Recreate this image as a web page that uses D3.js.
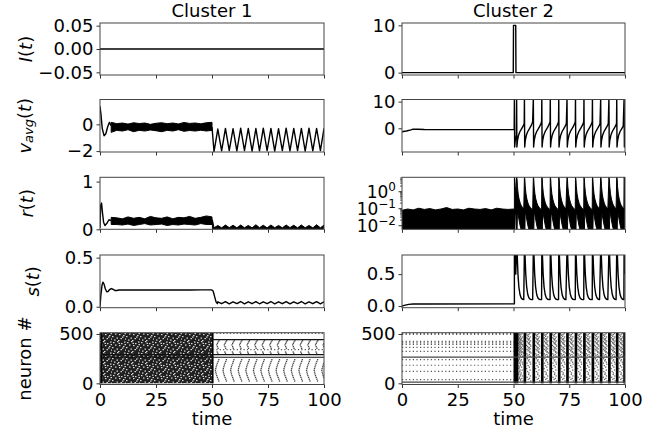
<!DOCTYPE html>
<html>
<head>
<meta charset="utf-8">
<script src="https://cdn.jsdelivr.net/npm/d3@7"></script>
<style>
  body { margin: 0; background: #fff; }
  text { font-family: "DejaVu Sans", sans-serif; fill: #000; }
</style>
</head>
<body>
<svg width="668" height="438"></svg>
<script>
// ---- data ----
var xTicks = [0, 25, 50, 75, 100];

// input current
var I1 = [[0, 0], [100, 0]];
var I2 = [[0, 0], [49.9, 0], [50, 10], [51, 10], [51.1, 0], [100, 0]];

// cluster 1, first half: early transient then noisy band
var v1Early = [[0, 1.35], [0.4, 0.8], [1, -0.3], [1.8, -0.85], [2.6, -0.7], [3.4, -0.2], [4.2, 0.15], [5, -0.1]];
var bandT1 = [5, 7.5, 10, 12.5, 15, 17.5, 20, 22.5, 25, 27.5, 30, 32.5, 35, 37.5, 40, 42.5, 45, 47.5, 50];
var v1Hi = [0.15, 0.05, 0.1, 0.02, 0.12, 0.06, 0.1, 0.0, 0.08, 0.12, 0.05, 0.1, 0.03, 0.14, 0.07, 0.1, 0.04, 0.12, 0.15];
var v1Lo = [-0.6, -0.45, -0.5, -0.4, -0.55, -0.45, -0.5, -0.42, -0.48, -0.55, -0.45, -0.5, -0.4, -0.52, -0.46, -0.5, -0.44, -0.5, -0.45];
var r1Early = [[0, 0.03], [0.3, 0.5], [0.7, 0.55], [1.1, 0.35], [1.6, 0.15], [2.2, 0.08], [3, 0.12], [4, 0.2], [5, 0.18]];
var r1Hi = [0.25, 0.24, 0.22, 0.26, 0.23, 0.25, 0.22, 0.27, 0.24, 0.23, 0.26, 0.22, 0.25, 0.24, 0.27, 0.23, 0.25, 0.28, 0.26];
var r1Lo = [0.1, 0.1, 0.09, 0.11, 0.08, 0.1, 0.12, 0.09, 0.1, 0.11, 0.08, 0.1, 0.09, 0.11, 0.1, 0.09, 0.12, 0.1, 0.1];
var s1First = [[0, 0], [0.4, 0.12], [0.9, 0.22], [1.3, 0.25], [1.8, 0.23], [2.4, 0.18], [3, 0.152], [3.6, 0.155],
  [4.3, 0.175], [5, 0.185], [5.8, 0.178], [6.6, 0.166], [7.5, 0.165], [8.5, 0.17], [10, 0.171], [15, 0.17],
  [20, 0.171], [25, 0.17], [30, 0.172], [35, 0.171], [40, 0.17], [45, 0.172], [49.8, 0.172], [50.5, 0.16],
  [51.2, 0.1], [51.8, 0.05], [52.4, 0.032]];

// cluster 1, second half: slow oscillation
var c1Troughs = [50.9, 54.3, 57.7, 61.1, 64.5, 67.9, 71.2, 74.6, 78.0, 81.4, 84.8, 88.2, 91.6, 95.0, 98.4];
var c1Peaks = [52.6, 56.0, 59.4, 62.8, 66.2, 69.6, 72.9, 76.3, 79.7, 83.1, 86.5, 89.9, 93.3, 96.7, 100];
var v1TroughV = [-2.05, -1.98, -1.96, -1.99, -1.97, -2.0, -1.98, -1.96, -2.0, -1.97, -1.99, -1.96, -2.0, -1.98, -1.97];
var v1PeakV = [-0.35, -0.3, -0.32, -0.28, -0.3, -0.31, -0.29, -0.3, -0.32, -0.28, -0.3, -0.31, -0.29, -0.3, -0.3];
var r1PeakV = [0.08, 0.09, 0.085, 0.09, 0.08, 0.095, 0.085, 0.09, 0.08, 0.09, 0.085, 0.09, 0.08, 0.095, 0.09];
var r1TroughV = [0.03, 0.03, 0.035, 0.03, 0.032, 0.03, 0.035, 0.03, 0.032, 0.03, 0.035, 0.03, 0.032, 0.03, 0.03];
var s1PeakV = [0.05, 0.052, 0.05, 0.053, 0.05, 0.052, 0.05, 0.053, 0.05, 0.052, 0.05, 0.053, 0.05, 0.052, 0.05];
var s1TroughV = [0.03, 0.031, 0.03, 0.032, 0.03, 0.031, 0.03, 0.032, 0.03, 0.031, 0.03, 0.032, 0.03, 0.031, 0.03];

// cluster 2, first half
var v2Early = [[0, -1.5], [0.5, -1.2], [2, -1.0], [4, -0.6], [5, -0.3], [7, -0.35], [10, -0.45], [20, -0.5], [30, -0.5], [40, -0.5], [50.3, -0.5]];
var bandT2 = [0, 2.5, 5, 7.5, 10, 12.5, 15, 17.5, 20, 22.5, 25, 27.5, 30, 32.5, 35, 37.5, 40, 42.5, 45, 47.5, 50.4];
var r2Hi = [0.075, 0.09, 0.08, 0.1, 0.085, 0.095, 0.08, 0.09, 0.11, 0.085, 0.09, 0.08, 0.1, 0.09, 0.085, 0.095, 0.08, 0.1, 0.09, 0.085, 0.09];
var s2Early = [[0, 0], [1, 0.01], [3, 0.025], [5, 0.03], [10, 0.032], [50.4, 0.033]];

// cluster 2, second half: population bursts and one cycle shape after each [dt, value]
var bursts = [50.4, 51.4, 54.9, 58.9, 62.7, 66.5, 70.3, 74.0, 77.8, 81.6, 85.4, 89.1, 92.8, 96.3, 99.6];
var vCycle = [[0, 11.5], [0.12, -7], [0.4, -4.5], [0.9, -2.5], [1.5, -1.2], [2.2, -0.2], [2.9, 0.8], [3.4, 1.8], [3.7, 2.5]];
var sCycle = [[0, 0.9], [0.25, 0.82], [0.6, 0.5], [1.0, 0.3], [1.5, 0.18], [2.0, 0.13], [2.6, 0.105], [3.2, 0.1], [3.7, 0.1]];
var rCycle = [[0, 0.004, 7], [0.2, 0.004, 5], [0.35, 0.06, 2], [0.7, 0.04, 0.7], [1.1, 0.02, 0.35], [1.6, 0.009, 0.2],
  [2.1, 0.005, 0.14], [2.7, 0.004, 0.11], [3.2, 0.004, 0.09], [3.7, 0.004, 0.085]];

// rasters
var c1Solid = [[0, 100, 264], [0, 100, 290], [50, 100, 442]];
var c1Bars = [0.6, 50.3];
var c1Rows2 = [505, 341];
var c1VeeN = [240, 222, 204, 186, 168, 150, 132, 114, 96, 78, 60, 42, 24];
var c1VeeDt = [1.5, 1.2, 0.9, 0.6, 0.35, 0.15, 0, 0.15, 0.35, 0.6, 0.9, 1.2, 1.5];
var c1VeeN2 = [432, 420, 405, 390, 372, 355, 318, 305];
var c1VeeDt2 = [1.0, 0.6, 0.3, 0, 0.3, 0.6, 0.2, 0.5];
var c2Rows = [505, 497, 425, 410, 395, 365, 324, 240, 183, 122, 37];
var c2Solid = [266, 12];
var c2FireN = [500, 488, 476, 462, 450, 438, 425, 412, 398, 385, 372, 358, 345, 330, 316, 300, 285, 250, 228, 205, 180, 150, 120, 90, 62, 40];
var c2FireDt = [0.9, 1.3, 1.7, 1.1, 1.5, 2.0, 1.2, 1.6, 2.2, 1.0, 1.4, 1.9, 1.2, 1.6, 2.3, 1.1, 1.5, 1.3, 1.8, 1.2, 1.6, 1.0, 1.4, 1.9, 1.2, 1.7];
var c2FireN2 = [505, 494, 470, 455, 444, 430, 418, 404, 392, 378, 364, 350, 338, 322, 308, 292, 275, 240, 215, 195, 165, 135, 105, 75, 50, 25];
var c2FireDt2 = [2.4, 1.9, 2.6, 2.2, 1.8, 2.7, 2.3, 1.9, 2.5, 2.8, 2.1, 2.6, 2.0, 2.4, 2.9, 2.2, 2.6, 2.1, 2.5, 2.7, 2.2, 2.5, 2.0, 2.6, 2.3, 2.8];

// ---- layout ----
var svg = d3.select("svg");
var colX = [[100, 324], [402, 625]];
var rowY = [[23, 75], [99.5, 152], [177.3, 229.3], [255, 307.7], [332.7, 384.5]];
var FS = 18;

var defs = svg.append("defs");
// speckle texture for the dense asynchronous raster
var pat = defs.append("pattern").attr("id", "speck").attr("patternUnits", "userSpaceOnUse")
  .attr("width", 14).attr("height", 11);
pat.append("rect").attr("width", 14).attr("height", 11).attr("fill", "#202020");
[[1, 1], [5, 0], [9, 2], [12, 0.5], [3, 3.5], [7, 4], [11, 5], [0, 6], [4.5, 7.5], [8.5, 8],
 [13, 8.5], [2, 9.5], [6, 10], [10, 6.5], [12.5, 3], [6.5, 1.8]].forEach(function (p) {
  pat.append("rect").attr("x", p[0]).attr("y", p[1]).attr("width", 1.5).attr("height", 1.2).attr("fill", "#d8d8d8");
});

function xs(c) { return d3.scaleLinear().domain([0, 100]).range(colX[c]); }

function panel(c, r, y, ticks, fmt) {
  var x = xs(c);
  var id = "clip" + c + r;
  defs.append("clipPath").attr("id", id).append("rect")
    .attr("x", colX[c][0]).attr("y", rowY[r][0])
    .attr("width", colX[c][1] - colX[c][0]).attr("height", rowY[r][1] - rowY[r][0]);
  var g = svg.append("g").attr("clip-path", "url(#" + id + ")");

  var ax = svg.append("g").attr("transform", "translate(" + colX[c][0] + ",0)")
    .call(d3.axisLeft(y).tickValues(ticks).tickFormat(fmt || null).tickSize(3.5).tickPadding(3).tickSizeOuter(0));
  ax.select(".domain").remove();
  ax.selectAll("text").style("font-size", FS + "px").style("font-family", "DejaVu Sans");
  ax.selectAll("line").attr("stroke", "#333");

  var bx = svg.append("g").attr("transform", "translate(0," + rowY[r][1] + ")")
    .call(d3.axisBottom(x).tickValues(xTicks).tickSize(3.5).tickPadding(5).tickSizeOuter(0)
      .tickFormat(r === 4 ? d3.format("d") : function () { return ""; }));
  bx.select(".domain").remove();
  bx.selectAll("text").style("font-size", FS + "px").style("font-family", "DejaVu Sans");
  bx.selectAll("line").attr("stroke", "#333");

  svg.append("rect").attr("x", colX[c][0]).attr("y", rowY[r][0])
    .attr("width", colX[c][1] - colX[c][0]).attr("height", rowY[r][1] - rowY[r][0])
    .attr("fill", "none").attr("stroke", "#444").attr("stroke-width", 1);
  return { g: g, x: x, y: y };
}

function drawLine(p, pts) {
  p.g.append("path").datum(pts)
    .attr("d", d3.line().x(function (d) { return p.x(d[0]); }).y(function (d) { return p.y(d[1]); }))
    .attr("fill", "none").attr("stroke", "#000").attr("stroke-width", 1.4).attr("stroke-linejoin", "round");
}

function drawBand(p, ts, lo, hi) {
  var rows = ts.map(function (t, i) { return [t, lo[i], hi[i]]; });
  p.g.append("path").datum(rows)
    .attr("d", d3.area().x(function (d) { return p.x(d[0]); })
      .y0(function (d) { return p.y(d[1]); }).y1(function (d) { return p.y(d[2]); }))
    .attr("fill", "#000").attr("stroke", "#000").attr("stroke-width", 1);
}

function merge(tA, vA, tB, vB, from) {
  var pts = [];
  tA.forEach(function (t, i) { pts.push([t, vA[i]]); });
  tB.forEach(function (t, i) { pts.push([t, vB[i]]); });
  return pts.filter(function (d) { return d[0] >= from; }).sort(function (a, b) { return a[0] - b[0]; });
}

// one cycle shape repeated at every burst, cut at the next burst
function cycles(bs, shape, end) {
  var pts = [];
  bs.forEach(function (b, i) {
    var nb = i + 1 < bs.length ? bs[i + 1] : end;
    shape.forEach(function (s) {
      if (b + s[0] < nb) pts.push([b + s[0]].concat(s.slice(1)));
    });
  });
  return pts;
}

function yl(r, dom) { return d3.scaleLinear().domain(dom).range([rowY[r][1], rowY[r][0]]); }

// ---- row 1: I(t)
var p = panel(0, 0, yl(0, [-0.0557, 0.0557]), [-0.05, 0, 0.05], d3.format(".2f"));
drawLine(p, I1);
p = panel(1, 0, yl(0, [-0.5, 10.5]), [0, 10], d3.format("d"));
drawLine(p, I2);

// ---- row 2: v_avg(t)
p = panel(0, 1, yl(1, [-2.07, 1.86]), [-2, 0], d3.format("d"));
drawLine(p, v1Early);
drawBand(p, bandT1, v1Lo, v1Hi);
drawLine(p, [[50, -0.2]].concat(merge(c1Troughs, v1TroughV, c1Peaks, v1PeakV, 50)));
p = panel(1, 1, yl(1, [-8.9, 10.8]), [0, 10], d3.format("d"));
drawLine(p, v2Early.concat(cycles(bursts, vCycle, 100.5)));

// ---- row 3: r(t)
p = panel(0, 2, yl(2, [0, 1.09]), [0, 1], d3.format("d"));
drawLine(p, r1Early);
drawBand(p, bandT1, r1Lo, r1Hi);
var r1Tail = [[50.2, 0.2], [50.9, 0.03]].concat(merge(c1Troughs, r1TroughV, c1Peaks, r1PeakV, 51));
p.g.append("path").datum(r1Tail)
  .attr("d", d3.area().x(function (d) { return p.x(d[0]); }).y0(p.y(0.012)).y1(function (d) { return p.y(d[1]); }))
  .attr("fill", "#000").attr("stroke", "#000").attr("stroke-width", 1);

var yLog = d3.scaleLog().domain([Math.pow(10, -2.24), Math.pow(10, 0.82)]).range([rowY[2][1], rowY[2][0]]);
p = panel(1, 2, yLog, [1, 0.1, 0.01], function () { return ""; });
drawBand(p, bandT2, bandT2.map(function () { return 0.004; }), r2Hi);
var rc = cycles(bursts, rCycle, 100.5);
p.g.append("path").datum(rc)
  .attr("d", d3.area().x(function (d) { return p.x(d[0]); })
    .y0(function (d) { return p.y(d[1]); }).y1(function (d) { return p.y(d[2]); }))
  .attr("fill", "#000").attr("stroke", "#000").attr("stroke-width", 1);
// log tick labels and minor ticks
[[1, "0"], [0.1, "\u22121"], [0.01, "\u22122"]].forEach(function (d) {
  var t = svg.append("text").attr("x", colX[1][0] - 6).attr("y", yLog(d[0]) + 6.5)
    .attr("text-anchor", "end").style("font-size", "17px");
  t.append("tspan").text("10");
  t.append("tspan").attr("dy", -7).style("font-size", "12px").text(d[1]);
});
[0.01, 0.1, 1].forEach(function (dec) {
  d3.range(2, 10).forEach(function (k) {
    var v = dec * k;
    if (v < yLog.domain()[1]) {
      svg.append("line").attr("x1", colX[1][0] - 2).attr("x2", colX[1][0])
        .attr("y1", yLog(v)).attr("y2", yLog(v)).attr("stroke", "#333").attr("stroke-width", 0.8);
    }
  });
});

// ---- row 4: s(t)
p = panel(0, 3, yl(3, [-0.01, 0.527]), [0, 0.5], d3.format(".1f"));
drawLine(p, s1First.concat(merge(c1Troughs, s1TroughV, c1Peaks, s1PeakV, 52.5)));
p = panel(1, 3, yl(3, [-0.027, 0.8]), [0, 0.5], d3.format(".1f"));
drawLine(p, s2Early.concat(cycles(bursts, sCycle, 100.5)));

// ---- row 5: raster
var yN = d3.scaleLinear().domain([-12, 513]).range([rowY[4][1], rowY[4][0]]);
function dots(pp, pts, col) {
  pp.g.selectAll(null).data(pts).enter().append("rect")
    .attr("x", function (d) { return pp.x(d[0]) - 0.6; }).attr("y", function (d) { return yN(d[1]) - 0.6; })
    .attr("width", 1.3).attr("height", 1.3).attr("fill", col);
}
function hline(pp, t0, t1, n, dash, col) {
  pp.g.append("line").attr("x1", pp.x(t0)).attr("x2", pp.x(t1)).attr("y1", yN(n)).attr("y2", yN(n))
    .attr("stroke", col).attr("stroke-width", 1.2).attr("stroke-dasharray", dash);
}
function bar(pp, t0, t1) {
  pp.g.append("rect").attr("x", pp.x(t0)).attr("width", pp.x(t1) - pp.x(t0))
    .attr("y", yN(512)).attr("height", yN(0) - yN(512)).attr("fill", "#000");
}

p = panel(0, 4, yN, [0, 500], d3.format("d"));
p.g.append("rect").attr("x", p.x(0)).attr("width", p.x(50.4) - p.x(0))
  .attr("y", yN(512)).attr("height", yN(0) - yN(512)).attr("fill", "url(#speck)");
c1Bars.forEach(function (t) { bar(p, t - 0.3, t + 0.4); });
c1Rows2.forEach(function (n) { hline(p, 50.4, 100, n, "1.2,2.2", "#555"); });
var vee = [];
c1Troughs.forEach(function (t) {
  c1VeeN.forEach(function (n, i) { vee.push([t + 0.6 + c1VeeDt[i], n]); });
  c1VeeN2.forEach(function (n, i) { vee.push([t + 1.2 + c1VeeDt2[i], n]); });
});
dots(p, vee.filter(function (d) { return d[0] > 50.5 && d[0] < 100; }), "#444");
c1Solid.forEach(function (d) { hline(p, d[0], d[1], d[2], null, "#111"); });

p = panel(1, 4, yN, [0, 500], d3.format("d"));
c2Rows.forEach(function (n) { hline(p, 0, 50.4, n, "1.2,2.4", "#555"); });
var fire = [];
bursts.forEach(function (b) {
  c2FireN.forEach(function (n, i) { fire.push([b + c2FireDt[i], n]); });
  c2FireN2.forEach(function (n, i) { fire.push([b + c2FireDt2[i], n]); });
});
dots(p, fire.filter(function (d) { return d[0] < 100; }), "#666");
bursts.forEach(function (b) { bar(p, b - 0.4, b + 0.8); });
c2Solid.forEach(function (n) { hline(p, 0, 100, n, null, "#444"); });

// ---- titles and labels
svg.append("text").attr("x", 212).attr("y", 16.5).attr("text-anchor", "middle").style("font-size", FS + "px").text("Cluster 1");
svg.append("text").attr("x", 513.5).attr("y", 16.5).attr("text-anchor", "middle").style("font-size", FS + "px").text("Cluster 2");
svg.append("text").attr("x", 212).attr("y", 425).attr("text-anchor", "middle").style("font-size", FS + "px").text("time");
svg.append("text").attr("x", 513.5).attr("y", 425).attr("text-anchor", "middle").style("font-size", FS + "px").text("time");

function ylabel(cx, r, parts) {
  var cy = (rowY[r][0] + rowY[r][1]) / 2;
  var t = svg.append("text").attr("transform", "translate(" + cx + "," + cy + ") rotate(-90)")
    .attr("text-anchor", "middle").attr("dominant-baseline", "central").style("font-size", FS + "px");
  parts.forEach(function (q) {
    var s = t.append("tspan").text(q[0]);
    if (q[1]) s.style("font-style", "italic");
    if (q[2]) s.attr("dy", q[2]).style("font-size", q[3]);
  });
}
ylabel(24.5, 0, [["I", 1], ["("], ["t", 1], [")"]]);
ylabel(24, 1, [["v", 1], ["avg", 1, 4, "13px"], ["(", 0, -4, FS + "px"], ["t", 1], [")"]]);
ylabel(26, 2, [["r", 1], ["("], ["t", 1], [")"]]);
ylabel(32, 3, [["s", 1], ["("], ["t", 1], [")"]]);
ylabel(24, 4, [["neuron #"]]);
</script>
</body>
</html>
